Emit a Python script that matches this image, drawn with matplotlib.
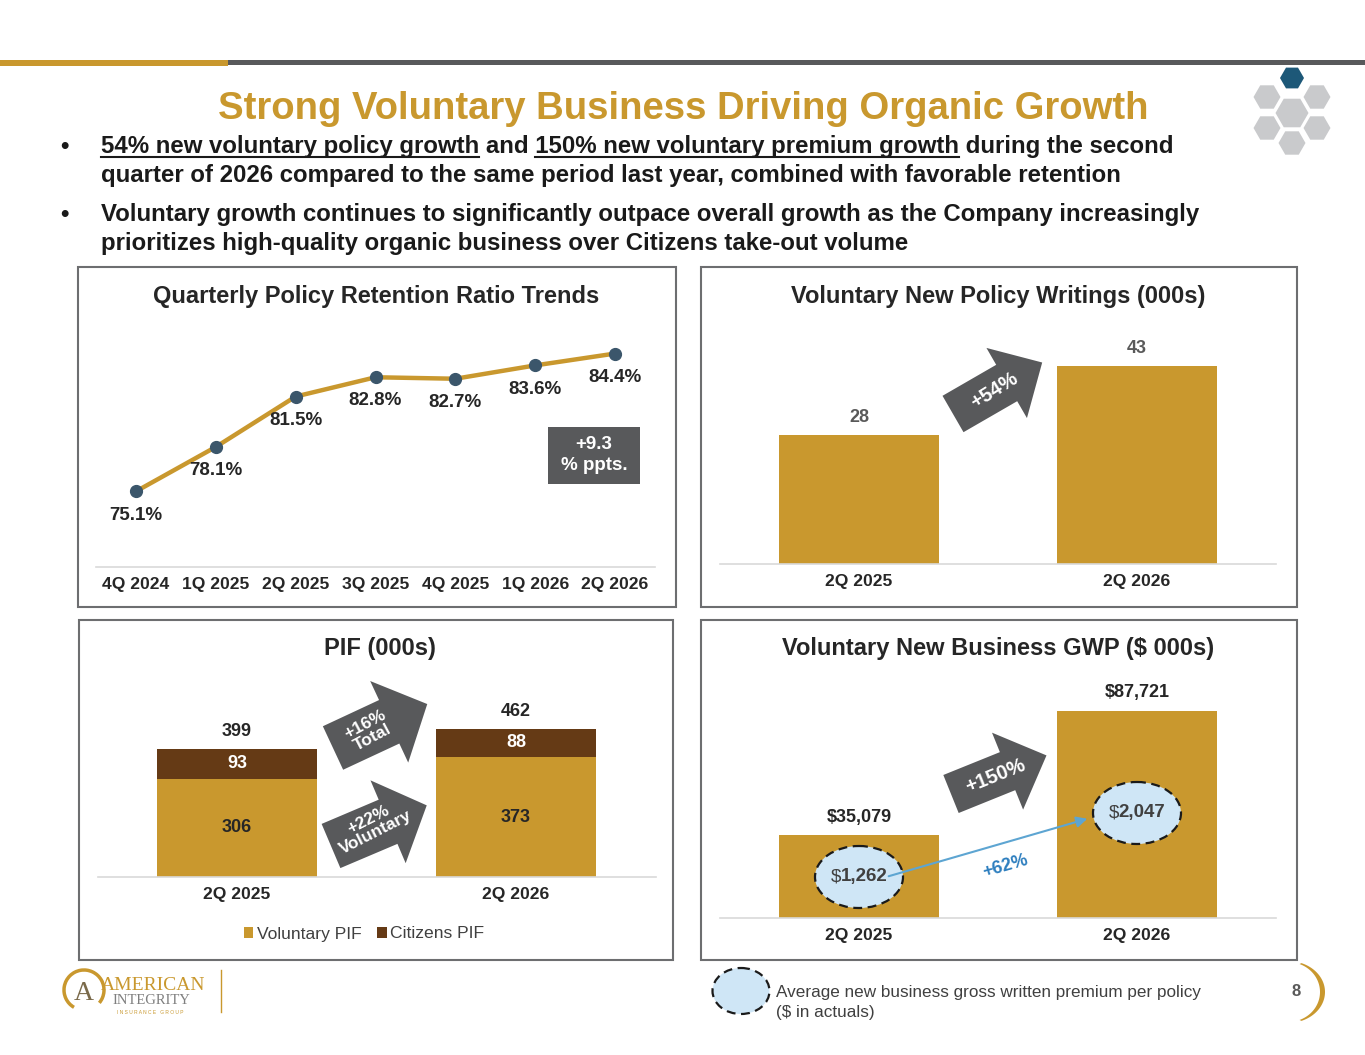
import numpy as np
import matplotlib
matplotlib.use("Agg")
import matplotlib.pyplot as plt
from matplotlib.patches import Rectangle, Polygon, Ellipse, RegularPolygon, Arc

W, H = 1365, 1055
plt.rcParams['font.family'] = ['Liberation Sans', 'DejaVu Sans']

GOLD = '#C9982E'
BROWN = '#653A15'
DARK = '#58595B'
TEXT = '#262626'
MARKER = '#3B566B'
LIGHT_BLUE = '#CFE6F6'

# chart data
quarters = ['4Q 2024', '1Q 2025', '2Q 2025', '3Q 2025', '4Q 2025', '1Q 2026', '2Q 2026']
retention = [75.1, 78.1, 81.5, 82.8, 82.7, 83.6, 84.4]
periods = ['2Q 2025', '2Q 2026']
new_policies = [28, 43]
pif_voluntary = [306, 373]
pif_citizens = [93, 88]
pif_total = [399, 462]
gwp = [35079, 87721]
avg_premium = [1262, 2047]

fig = plt.figure(figsize=(W / 100, H / 100), dpi=100)


def px_axes(x0, y0, x1, y1):
    return fig.add_axes([x0 / W, 1 - y1 / H, (x1 - x0) / W, (y1 - y0) / H])


def style(ax):
    for s in ['top', 'left', 'right']:
        ax.spines[s].set_visible(False)
    ax.spines['bottom'].set_color('#D9D9D9')
    ax.spines['bottom'].set_linewidth(1.2)
    ax.set_yticks([])
    ax.tick_params(axis='x', length=0, pad=7, labelsize=12.6, labelcolor=TEXT)
    for lab in ax.get_xticklabels():
        lab.set_fontweight('bold')
    ax.patch.set_alpha(0)


# --- retention line chart
ax1 = px_axes(96, 315, 655, 567)
x1 = np.arange(len(quarters))
ax1.plot(x1, retention, color=GOLD, lw=3.2, zorder=2)
ax1.plot(x1, retention, 'o', ms=8.5, color=MARKER, zorder=3)
for i, v in enumerate(retention):
    ax1.annotate(f'{v}%', (i, v), xytext=(0, -17), textcoords='offset points',
                 ha='center', va='center', fontsize=13.5, weight='bold', color=TEXT)
ax1.set_xlim(-0.5, len(quarters) - 0.5)
ax1.set_ylim(70, 87)
ax1.set_xticks(x1, quarters)
style(ax1)

# --- new policy writings
ax2 = px_axes(720, 334, 1276, 564)
x2 = np.arange(len(periods))
ax2.bar(x2, new_policies, width=0.575, color=GOLD)
for i, v in enumerate(new_policies):
    ax2.annotate(f'{v}', (i, v), xytext=(0, 13), textcoords='offset points',
                 ha='center', va='center', fontsize=13, weight='bold', color='#595959')
ax2.set_xlim(-0.5, 1.5)
ax2.set_ylim(0, 50)
ax2.set_xticks(x2, periods)
style(ax2)

# --- PIF stacked
ax3 = px_axes(97.5, 684, 655.5, 877)
b1 = ax3.bar(x2, pif_voluntary, width=0.575, color=GOLD, label='Voluntary PIF')
b2 = ax3.bar(x2, pif_citizens, width=0.575, bottom=pif_voluntary, color=BROWN, label='Citizens PIF')
for i in range(len(periods)):
    vol, cit = pif_voluntary[i], pif_citizens[i]
    ax3.text(i, vol / 2, f'{vol}', ha='center', va='center', fontsize=13, weight='bold', color=TEXT)
    ax3.text(i, vol + cit / 2, f'{cit}', ha='center', va='center', fontsize=13, weight='bold', color='white')
    ax3.annotate(f'{pif_total[i]}', (i, vol + cit), xytext=(0, 12.5), textcoords='offset points',
                 ha='center', va='center', fontsize=13, weight='bold', color=TEXT)
ax3.set_xlim(-0.5, 1.5)
ax3.set_ylim(0, 600)
ax3.set_xticks(x2, periods)
style(ax3)
ax3.legend(handles=[b1, b2], loc='center', bbox_to_anchor=(364 / W, 1 - 934 / H),
           bbox_transform=fig.transFigure, ncol=2, frameon=False, fontsize=12.6,
           handlelength=0.55, handleheight=0.55, handletextpad=0.2, columnspacing=0.9,
           labelcolor='#404040')

# --- new business GWP
ax4 = px_axes(720, 682, 1276, 918)
ax4.bar(x2, gwp, width=0.575, color=GOLD)
for i, v in enumerate(gwp):
    ax4.annotate(f'${v:,}', (i, v), xytext=(0, 13), textcoords='offset points',
                 ha='center', va='center', fontsize=13, weight='bold', color=TEXT)
ax4.set_xlim(-0.5, 1.5)
ax4.set_ylim(0, 100000)
ax4.set_xticks(x2, periods)
style(ax4)

# --- overlay in pixel coordinates
ov = fig.add_axes([0, 0, 1, 1], zorder=10)
ov.set_xlim(0, W)
ov.set_ylim(H, 0)
ov.axis('off')
renderer = fig.canvas.get_renderer()


def text_width(s, **kw):
    t = ov.text(0, 0, s, **kw)
    w = t.get_window_extent(renderer).width
    t.remove()
    return w


# header bar
ov.add_patch(Rectangle((0, 59.5), 228, 6, color=GOLD, lw=0))
ov.add_patch(Rectangle((228, 59.5), W - 228, 5.5, color=DARK, lw=0))
ov.text(683, 109, 'Strong Voluntary Business Driving Organic Growth', ha='center', va='center',
        fontsize=27.5, weight='bold', color=GOLD)

# hexagon logo
hexes = [((1292, 78), 12, '#1D5878'), ((1267, 97), 13.5, '#C9CACC'), ((1317, 97), 13.5, '#C9CACC'),
         ((1292, 113), 16.5, '#C9CACC'), ((1267, 128), 13.5, '#C9CACC'), ((1317, 128), 13.5, '#C9CACC'),
         ((1292, 143), 13.5, '#C9CACC')]
for (cx, cy), r, c in hexes:
    ov.add_patch(RegularPolygon((cx, cy), 6, radius=r, orientation=np.pi / 6, color=c, lw=0))

# bullets
BFS = 17.3
bfont = dict(fontsize=BFS, weight='bold', color='#1A1A1A', va='baseline')
lines = [
    (153, '54% new voluntary policy growth and 150% new voluntary premium growth during the second'),
    (182, 'quarter of 2026 compared to the same period last year, combined with favorable retention'),
    (221, 'Voluntary growth continues to significantly outpace overall growth as the Company increasingly'),
    (250, 'prioritizes high-quality organic business over Citizens take-out volume'),
]
for y, s in lines:
    ov.text(101, y, s, **bfont)
for y in (153, 221):
    ov.text(60, y, '\u2022', **bfont)

first = lines[0][1]
u1 = '54% new voluntary policy growth'
u2 = '150% new voluntary premium growth'
s2 = first.index(u2)
wx = text_width('x', fontsize=BFS, weight='bold')
start2 = text_width(first[:s2] + 'x', fontsize=BFS, weight='bold') - wx
end2 = text_width(first[:s2 + len(u2)], fontsize=BFS, weight='bold')
end1 = text_width(u1, fontsize=BFS, weight='bold')
for a, b in [(0, end1), (start2, end2)]:
    ov.plot([101 + a, 101 + b], [156.5, 156.5], color='#1A1A1A', lw=1.5)

# panels
panels = [(78, 267, 676, 607), (701, 267, 1297, 607), (79, 620, 673, 960), (701, 620, 1297, 960)]
for x0, y0, x1_, y1_ in panels:
    ov.add_patch(Rectangle((x0, y0), x1_ - x0, y1_ - y0, fill=False, ec='#6D6E70', lw=1.5))
titles = [(376, 296, 'Quarterly Policy Retention Ratio Trends'),
          (998, 296, 'Voluntary New Policy Writings (000s)'),
          (380, 648, 'PIF (000s)'),
          (998, 648, 'Voluntary New Business GWP ($ 000s)')]
for x, y, s in titles:
    ov.text(x, y, s, ha='center', va='center', fontsize=17, weight='bold', color=TEXT)

# retention change box
ov.add_patch(Rectangle((548, 427), 92, 57, color=DARK, lw=0))
ov.text(594, 455, '+9.3\n% ppts.', ha='center', va='center', fontsize=13.5, weight='bold',
        color='white', linespacing=1.3)


def block_arrow(tail, ang, length, bw, hw, hl, label, tc, rot, fs):
    a = np.radians(ang)
    u = np.array([np.cos(a), -np.sin(a)])
    n = np.array([np.sin(a), np.cos(a)])
    t = np.array(tail, dtype=float)
    b = t + u * (length - hl)
    pts = [t + n * bw / 2, b + n * bw / 2, b + n * hw / 2, t + u * length,
           b - n * hw / 2, b - n * bw / 2, t - n * bw / 2]
    ov.add_patch(Polygon(pts, closed=True, fc=DARK, ec='none'))
    ov.text(tc[0], tc[1], label, ha='center', va='center', rotation=rot, rotation_mode='anchor',
            fontsize=fs, weight='bold', color='white', linespacing=1.0)


block_arrow((953, 414), 30, 103, 42, 81, 41, '+54%', (994, 391), 32, 14.5)
block_arrow((951, 794), 22, 103, 41, 83, 42, '+150%', (995, 776), 22, 14.5)
block_arrow((333, 748), 25, 104, 48, 90, 42, '+16%\nTotal', (369, 731), 28, 12.5)
block_arrow((331, 846), 23, 104, 48, 90, 42, '+22%\nVoluntary', (372, 826), 27, 12.5)

# average premium bubbles
bar_px = [ax4.transData.transform((i, 0))[0] for i in range(len(periods))]
bubble_y = [877, 813]
for cx, cy, v in zip(bar_px, bubble_y, avg_premium):
    ov.add_patch(Ellipse((cx, cy), 88, 62, fc=LIGHT_BLUE, ec='#1A1A1A', lw=1.6, ls=(0, (4, 2.5))))
    num = f'{v:,}'
    wn = text_width(num, fontsize=13.5, weight='bold')
    ws = text_width('$', fontsize=13.5)
    x0 = cx - (wn + ws) / 2
    ov.text(x0, cy, '$', ha='left', va='center', fontsize=13.5, color='#404040')
    ov.text(x0 + ws, cy, num, ha='left', va='center', fontsize=13.5, weight='bold', color='#404040')
ov.annotate('', xy=(bar_px[1] - 47, bubble_y[1] + 5), xytext=(bar_px[0] + 27, bubble_y[0]),
            arrowprops=dict(arrowstyle='-|>', color='#5DA5D2', lw=1.5, mutation_scale=16))
ov.text(1005, 866, '+62%', ha='center', va='center', rotation=16, fontsize=13,
        weight='bold', color='#2E7FBF')

# footer legend
ov.add_patch(Ellipse((741, 991), 57, 46, fc=LIGHT_BLUE, ec='#1A1A1A', lw=1.6, ls=(0, (4, 2.5))))
ov.text(776, 993, 'Average new business gross written premium per policy', va='center',
        fontsize=12.3, color='#404040')
ov.text(776, 1013, '($ in actuals)', va='center', fontsize=12.3, color='#404040')

# page number with crescent
ov.text(1296, 992, '8', ha='center', va='center', fontsize=12, weight='bold', color='#595959')
th = np.linspace(-1.2, 1.2, 60)
outer = np.column_stack([1288 + 37 * np.cos(th), 992 + 31 * np.sin(th)])
inner = np.column_stack([1288 + 32 * np.cos(th[::-1]), 992 + 30 * np.sin(th[::-1])])
ov.add_patch(Polygon(np.vstack([outer, inner]), closed=True, color=GOLD, lw=0))

# company logo
ov.add_patch(Arc((84, 990), 40, 40, theta1=120, theta2=400, ec=GOLD, lw=2.5))
ov.text(84, 994, 'A', ha='center', va='center', fontsize=20, family='Liberation Serif', color='#7A6A4A')
ov.text(101, 986, 'AMERICAN', ha='left', va='center', fontsize=14, family='Liberation Serif', color=GOLD)
ov.text(112, 1001, 'INTEGRITY', ha='left', va='center', fontsize=10.5, family='Liberation Serif',
        color='#7F7F7F')
ov.text(150, 1012, 'I N S U R A N C E   G R O U P', ha='center', va='center', fontsize=3.5, color=GOLD)
ov.plot([221, 221], [970, 1012], color=GOLD, lw=1)

fig.savefig('out.png', dpi=100)
